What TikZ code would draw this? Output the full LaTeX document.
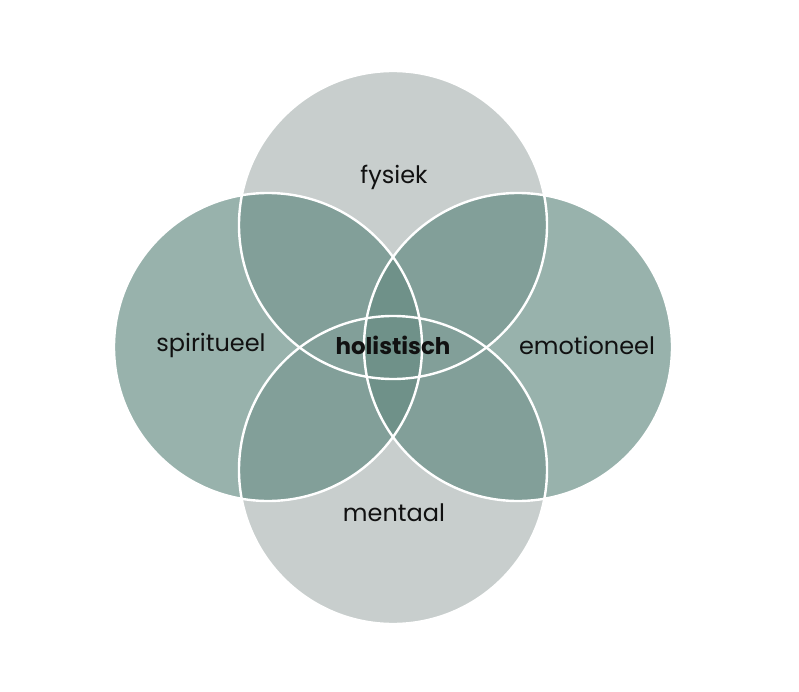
\documentclass[tikz,border=0pt]{standalone}
\usepackage{fontspec}
\setmainfont{Poppins}
\definecolor{cgrey}{HTML}{C8CECD}
\definecolor{cleft}{HTML}{98B2AC}
\definecolor{cmid}{HTML}{829F99}
\definecolor{cdark}{HTML}{6F9189}
\definecolor{ctext}{HTML}{111111}
\begin{document}
\begin{tikzpicture}[x=1pt,y=-1pt,
  lbl/.style={text=ctext,font=\fontsize{24}{28}\selectfont,inner sep=0pt},
  rim/.style={draw=white,line width=2.4pt}]
\useasboundingbox[fill=white] (0,0) rectangle (799,692);
\def\R{154}
\coordinate (T) at (393,225);
\coordinate (B) at (393,470);
\coordinate (L) at (268,347);
\coordinate (Rt) at (518,347);
% base fills
\fill[cgrey] (T) circle (\R);
\fill[cgrey] (B) circle (\R);
\fill[cleft] (L) circle (\R);
\fill[cleft] (Rt) circle (\R);
% overlaps of top/bottom with left/right
\begin{scope}
  \clip (T) circle (\R) (B) circle (\R);
  \fill[cmid] (L) circle (\R);
  \fill[cmid] (Rt) circle (\R);
\end{scope}
% left-right lens
\begin{scope}
  \clip (L) circle (\R);
  \fill[cdark] (Rt) circle (\R);
\end{scope}
% white rims
\draw[rim] (T) circle (\R);
\draw[rim] (B) circle (\R);
\draw[rim] (L) circle (\R);
\draw[rim] (Rt) circle (\R);
% labels
\node[lbl] (fys) at (394,177) {fysiek};
\node[lbl] (spi) at (211,345) {spiritueel};
\node[lbl] (emo) at (587,345) {emotioneel};
\node[lbl] (men) at (394,513) {mentaal};
\node[lbl,font=\fontsize{23}{27}\selectfont\bfseries] (hol) at (393,345) {holistisch};
\end{tikzpicture}
\end{document}
